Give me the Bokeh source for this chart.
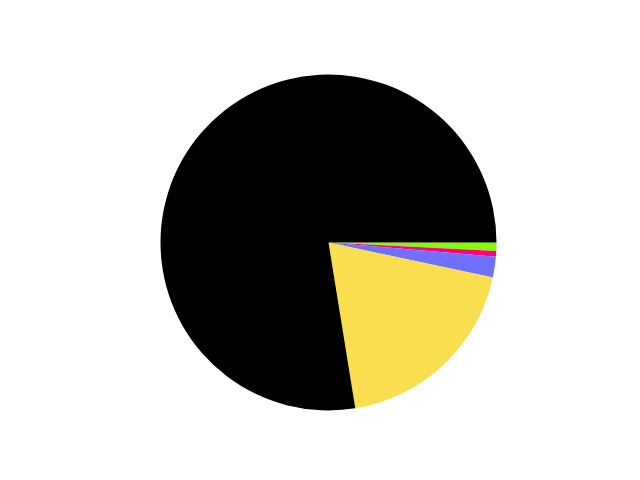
import math
from bokeh.plotting import figure
from bokeh.models import ColumnDataSource, Range1d
from bokeh.embed import file_html
from bokeh.resources import INLINE

# slice shares, clockwise from 3 o'clock
labels = ["green", "magenta", "blue", "yellow", "black"]
values = [0.8, 0.55, 2.0, 19.1, 77.55]
colors = ["#80ff00", "#ff0080", "#7070ff", "#f9df4f", "#000000"]

total = sum(values)
starts, ends = [], []
acc = 0.0
for v in values:
    starts.append(-2 * math.pi * acc / total)
    acc += v
    ends.append(-2 * math.pi * acc / total)

source = ColumnDataSource(data=dict(label=labels, value=values, color=colors,
                                    start=starts, end=ends))

W, H = 624, 464
R = 168.0
cx, cy = 328.0, 242.0  # pie centre in pixels inside the frame

p = figure(width=W, height=H, output_backend="svg", toolbar_location=None,
           x_range=Range1d(-cx / R, (W - cx) / R),
           y_range=Range1d(-(H - cy) / R, cy / R),
           min_border=0)
p.wedge(x=0, y=0, radius=1, start_angle="start", end_angle="end",
        direction="clock", fill_color="color", line_color=None, source=source)
p.axis.visible = False
p.grid.grid_line_color = None
p.outline_line_color = None

open("out.html", "w").write(file_html(p, INLINE))
